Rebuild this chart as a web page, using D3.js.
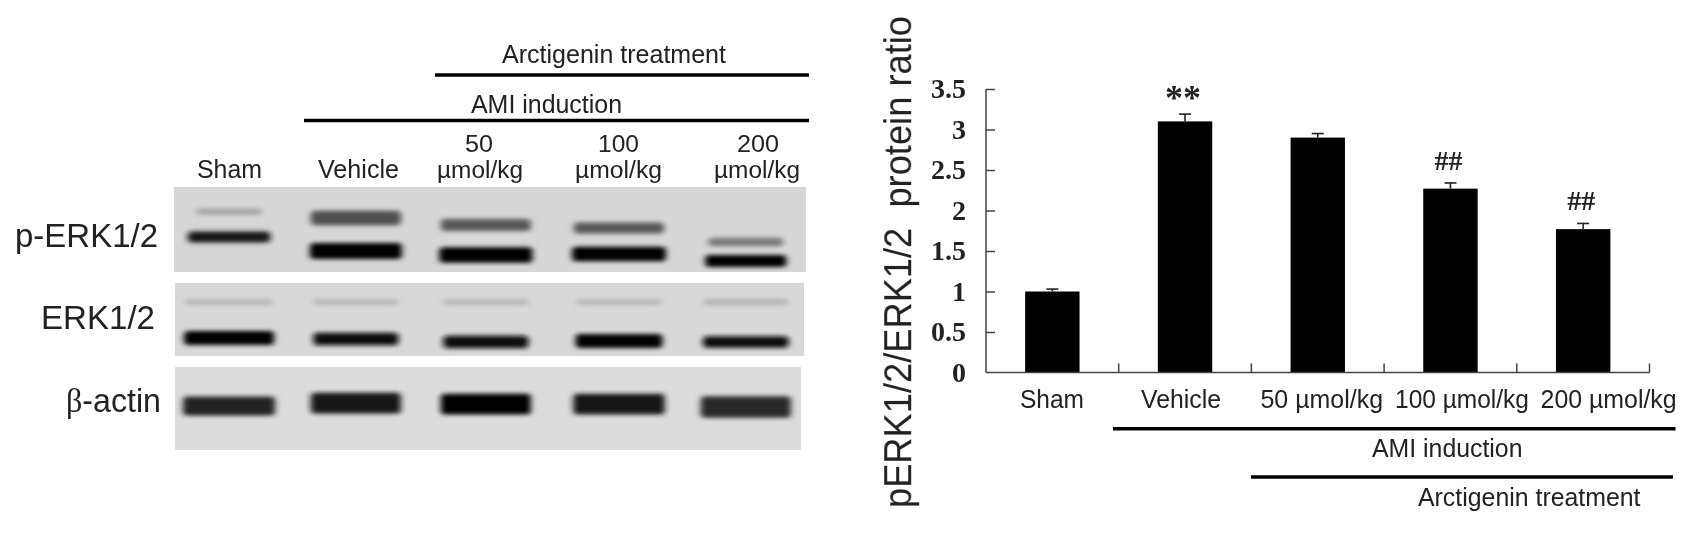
<!DOCTYPE html>
<html>
<head>
<meta charset="utf-8">
<script src="https://cdn.jsdelivr.net/npm/d3@7"></script>
<style>
  html, body { margin: 0; padding: 0; background: #fff; }
  svg { display: block; }
  text { font-family: "Liberation Sans", sans-serif; fill: #222; }
</style>
</head>
<body>
<script>
// bar chart values
const groups = ["Sham", "Vehicle", "50 µmol/kg", "100 µmol/kg", "200 µmol/kg"];
const ratio = [1.0, 3.1, 2.9, 2.27, 1.77];
const ratioErr = [0.03, 0.09, 0.05, 0.07, 0.07];
const marks = ["", "**", "", "##", "##"];
const yTicks = [0, 0.5, 1, 1.5, 2, 2.5, 3, 3.5];

// blot bands: all in percent of the panel (x, width, migration, thickness), intensity 0-1
const laneCentres = [9, 29, 49.5, 70.5, 90.5];
const pErkUpperMig = [29, 36.5, 44.7, 48.2, 64.7];
const pErkUpperInt = [0.2, 0.62, 0.58, 0.58, 0.42];
const pErkUpperThick = [8, 17, 14, 13, 10];
const pErkUpperSpread = [10.4, 14.2, 14.2, 14.2, 11.8];
const pErkLowerMig = [58.8, 75.3, 80, 78.8, 87];
const pErkLowerInt = [0.9, 1, 1, 1, 1];
const pErkLowerThick = [13, 19, 18, 17, 14];
const pErkLowerSpread = [13, 14.5, 14.7, 14.8, 12.8];
const erkUpperMig = [26, 26, 26, 26, 26];
const erkUpperInt = [0.12, 0.12, 0.12, 0.12, 0.14];
const erkUpperThick = [9, 9, 9, 9, 9];
const erkUpperSpread = [14, 13.5, 13.5, 13.5, 13.5];
const erkLowerMig = [75.3, 76.7, 80.8, 79.5, 80.8];
const erkLowerInt = [1, 0.95, 0.95, 1, 0.95];
const erkLowerThick = [19, 17, 17, 19, 16];
const erkLowerSpread = [14.2, 13.4, 13.4, 13.7, 13.5];
const actinMig = [47, 43.4, 44.6, 44.6, 48.2];
const actinInt = [0.85, 0.9, 1, 0.88, 0.8];
const actinThick = [23, 25, 25, 25, 26];
const actinSpread = [14.5, 14.2, 14.2, 14.4, 14.2];

const w = 1703;
const h = 538;

const svg = d3.select("body")
  .append("svg")
  .attr("width", w)
  .attr("height", h);

const defs = svg.append("defs");
defs.append("filter").attr("id", "bandBlur")
  .attr("x", "-20%").attr("y", "-80%").attr("width", "140%").attr("height", "260%")
  .append("feGaussianBlur").attr("stdDeviation", "3 2.2");
defs.append("filter").attr("id", "soft")
  .attr("filterUnits", "userSpaceOnUse")
  .attr("x", 0).attr("y", 0).attr("width", w).attr("height", h)
  .append("feGaussianBlur").attr("stdDeviation", 0.55);

// text squeezed into the measured width, the original figure is stretched
function label(parent, str, x, y, width, size) {
  return parent.append("text")
    .attr("x", x)
    .attr("y", y)
    .attr("font-size", size)
    .attr("textLength", width)
    .attr("lengthAdjust", "spacingAndGlyphs")
    .text(str);
}

function rule(parent, x1, x2, y) {
  parent.append("line")
    .attr("x1", x1).attr("x2", x2)
    .attr("y1", y).attr("y2", y)
    .attr("stroke", "#000")
    .attr("stroke-width", 3.5);
}

//Western blot panels
const blots = svg.append("g");
const inkScale = d3.scaleLinear().domain([0, 1]).range(["#d2d2d2", "#000000"]);

const panels = [
  { x0: 174, x1: 806, y0: 187, y1: 272, bg: "#d6d6d6", rows: [
    [pErkUpperMig, pErkUpperInt, pErkUpperThick, pErkUpperSpread],
    [pErkLowerMig, pErkLowerInt, pErkLowerThick, pErkLowerSpread]] },
  { x0: 175, x1: 804, y0: 283, y1: 356, bg: "#d8d8d8", rows: [
    [erkUpperMig, erkUpperInt, erkUpperThick, erkUpperSpread],
    [erkLowerMig, erkLowerInt, erkLowerThick, erkLowerSpread]] },
  { x0: 175, x1: 801, y0: 367, y1: 450, bg: "#dcdcdc", rows: [
    [actinMig, actinInt, actinThick, actinSpread]] }
];

panels.forEach((p) => {
  const px = d3.scaleLinear().domain([0, 100]).range([172, 806]);
  const py = d3.scaleLinear().domain([0, 100]).range([p.y0, p.y1]);
  const pSize = d3.scaleLinear().domain([0, 100]).range([0, p.y1 - p.y0]);
  const pWidth = d3.scaleLinear().domain([0, 100]).range([0, 634]);

  blots.append("rect")
    .attr("x", p.x0).attr("y", p.y0)
    .attr("width", p.x1 - p.x0).attr("height", p.y1 - p.y0)
    .attr("fill", p.bg);

  p.rows.forEach((row) => {
    blots.append("g")
      .attr("filter", "url(#bandBlur)")
      .selectAll("rect")
      .data(laneCentres)
      .enter()
      .append("rect")
      .attr("x", (d, i) => px(d) - pWidth(row[3][i]) / 2)
      .attr("y", (d, i) => py(row[0][i]) - pSize(row[2][i]) / 2)
      .attr("width", (d, i) => pWidth(row[3][i]))
      .attr("height", (d, i) => pSize(row[2][i]))
      .attr("rx", 4)
      .attr("fill", (d, i) => inkScale(row[1][i]));
  });
});

// left panel texts
const left = svg.append("g").attr("filter", "url(#soft)");
label(left, "Arctigenin treatment", 502, 63, 224, 26);
rule(left, 435, 809, 75);
label(left, "AMI induction", 471, 113, 151, 26);
rule(left, 304, 809, 120.5);
label(left, "Sham", 197, 178, 65, 26);
label(left, "Vehicle", 318, 178, 81, 26);
label(left, "50", 465, 152, 28, 23);
label(left, "µmol/kg", 437, 178, 86, 23);
label(left, "100", 598, 152, 41, 23);
label(left, "µmol/kg", 575, 178, 87, 23);
label(left, "200", 737, 152, 42, 23);
label(left, "µmol/kg", 714, 178, 86, 23);
label(left, "p-ERK1/2", 15, 247, 143, 33);
label(left, "ERK1/2", 41, 329, 114, 33);
const actin = left.append("text")
  .attr("x", 66).attr("y", 412)
  .attr("font-size", 33)
  .attr("textLength", 95)
  .attr("lengthAdjust", "spacingAndGlyphs");
actin.append("tspan").style("font-family", "'Liberation Serif', serif").text("β");
actin.append("tspan").text("-actin");

//Bar chart
const chart = svg.append("g").attr("filter", "url(#soft)");

const xScale = d3.scaleBand()
  .domain(groups)
  .range([986, 1649.5])
  .paddingInner(0.59)
  .paddingOuter(0.295);

const yScale = d3.scaleLinear()
  .domain([0, 3.5])
  .range([372.5, 89]);

chart.selectAll(".bar")
  .data(groups)
  .enter()
  .append("rect")
  .attr("class", "bar")
  .attr("x", (d) => xScale(d))
  .attr("y", (d, i) => yScale(ratio[i]))
  .attr("width", xScale.bandwidth())
  .attr("height", (d, i) => yScale(0) - yScale(ratio[i]))
  .attr("fill", "#000");

// error bars, upper half only
const errG = chart.append("g").attr("stroke", "#222").attr("stroke-width", 1.6);
errG.selectAll("line.stem")
  .data(groups)
  .enter()
  .append("line")
  .attr("class", "stem")
  .attr("x1", (d) => xScale(d) + xScale.bandwidth() / 2)
  .attr("x2", (d) => xScale(d) + xScale.bandwidth() / 2)
  .attr("y1", (d, i) => yScale(ratio[i]))
  .attr("y2", (d, i) => yScale(ratio[i] + ratioErr[i]));
errG.selectAll("line.cap")
  .data(groups)
  .enter()
  .append("line")
  .attr("class", "cap")
  .attr("x1", (d) => xScale(d) + xScale.bandwidth() / 2 - 6)
  .attr("x2", (d) => xScale(d) + xScale.bandwidth() / 2 + 6)
  .attr("y1", (d, i) => yScale(ratio[i] + ratioErr[i]))
  .attr("y2", (d, i) => yScale(ratio[i] + ratioErr[i]));

// significance marks
chart.selectAll(".mark")
  .data(groups)
  .enter()
  .append("text")
  .attr("class", "mark")
  .attr("x", (d) => xScale(d) + xScale.bandwidth() / 2 - 2)
  .attr("y", (d, i) => yScale(ratio[i] + ratioErr[i]) - (marks[i] === "**" ? 4 : 13))
  .attr("text-anchor", "middle")
  .style("font-family", "'Liberation Serif', serif")
  .attr("font-weight", "bold")
  .attr("font-size", (d, i) => marks[i] === "**" ? 36 : 28)
  .text((d, i) => marks[i]);

// axes
const yAxis = d3.axisRight(yScale)
  .tickValues(yTicks.filter((d) => d > 0))
  .tickSize(9)
  .tickFormat("");
const yG = chart.append("g")
  .attr("transform", "translate(986, 0)")
  .call(yAxis);
yG.select(".domain").attr("d", "M0," + yScale(3.5) + "V" + yScale(0));
yG.selectAll("path, line").attr("stroke", "#444").attr("stroke-width", 1.5);

const xEdges = groups.map((d, i) => xScale(d) + xScale.bandwidth() + xScale.step() * 0.295);
const xAxisG = chart.append("g").attr("stroke", "#444").attr("stroke-width", 1.5);
xAxisG.append("line")
  .attr("x1", 986).attr("x2", 1649.5)
  .attr("y1", yScale(0)).attr("y2", yScale(0));
xAxisG.selectAll("line.tick")
  .data(xEdges)
  .enter()
  .append("line")
  .attr("class", "tick")
  .attr("x1", (d) => d).attr("x2", (d) => d)
  .attr("y1", yScale(0)).attr("y2", yScale(0) - 9);

// y tick labels
chart.selectAll(".ylab")
  .data(yTicks)
  .enter()
  .append("text")
  .attr("class", "ylab")
  .attr("x", 966)
  .attr("y", (d) => yScale(d) + 9)
  .attr("text-anchor", "end")
  .style("font-family", "'Liberation Serif', serif")
  .attr("font-weight", "bold")
  .attr("font-size", 28)
  .text((d) => d);

// x labels
const xLabelLeft = [1020, 1141, 1260.5, 1395, 1540.6];
const xLabelWidth = [64, 80, 122.5, 134, 136];
groups.forEach((g, i) => label(chart, g, xLabelLeft[i], 408, xLabelWidth[i], 26));

rule(chart, 1113, 1675.5, 428.7);
label(chart, "AMI induction", 1372, 457, 150.5, 26);
rule(chart, 1251, 1673, 477);
label(chart, "Arctigenin treatment", 1418, 505.6, 222.5, 26);

// y title, smaller font stretched across the baseline so its natural length fits the page
chart.append("text")
  .attr("transform", "translate(911, 508) rotate(-90) scale(1, 1.15)")
  .attr("font-size", 33)
  .attr("textLength", 492)
  .attr("lengthAdjust", "spacingAndGlyphs")
  .style("white-space", "pre")
  .text("pERK1/2/ERK1/2  protein ratio");
</script>
</body>
</html>
